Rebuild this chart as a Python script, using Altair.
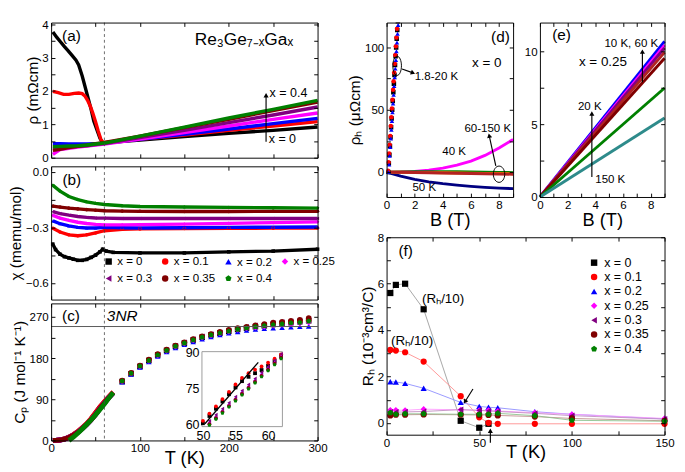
import altair as alt
import pandas as pd

FONT = "Liberation Sans"

# ---------------- series definitions ----------------
COMP = ["x = 0", "x = 0.1", "x = 0.2", "x = 0.25", "x = 0.3", "x = 0.35", "x = 0.4"]
COLORS = ["#000000", "#FF0000", "#0000FF", "#FF00FF", "#800080", "#800000", "#008000"]
LIGHT = ["#9a9a9a", "#FF8a8a", "#8a8aFF", "#FF9aFF", "#C08AC0", "#C08a8a", "#8ac08a"]
PENTAGON = "M0,-1L0.951,-0.309L0.588,0.809L-0.588,0.809L-0.951,-0.309Z"
SHAPES = ["square", "circle", "triangle-up", "diamond", "triangle-left", "circle", PENTAGON]

# ---------------- (a) resistivity ----------------
A_T0 = [2, 6, 10, 15, 19, 24, 28, 31, 35, 38, 41, 45, 48, 52, 55, 58, 60, 100, 150, 200, 250, 300]
A_R0 = [3.77, 3.62, 3.49, 3.33, 3.21, 3.05, 2.92, 2.78, 2.45, 2.15, 1.85, 1.45, 1.1, 0.8, 0.58, 0.45, 0.45, 0.53, 0.63, 0.73, 0.82, 0.92]
A_T1 = [2, 8, 14, 20, 26, 31, 35, 38, 41, 44, 47, 50, 53, 56, 58, 60, 100, 150, 200, 250, 300]
A_R1 = [1.99, 1.95, 1.9, 1.9, 1.93, 1.94, 1.92, 1.85, 1.72, 1.55, 1.33, 1.08, 0.8, 0.55, 0.47, 0.45, 0.55, 0.68, 0.82, 0.95, 1.08]
A_T = [2, 10, 20, 30, 40, 50, 60, 100, 150, 200, 250, 300]
A_R2 = [0.42, 0.42, 0.41, 0.41, 0.41, 0.42, 0.43, 0.55, 0.7, 0.86, 1.02, 1.18]
A_R3 = [0.1, 0.24, 0.28, 0.32, 0.35, 0.38, 0.41, 0.56, 0.75, 0.95, 1.15, 1.34]
A_R4 = [0.28, 0.3, 0.32, 0.34, 0.36, 0.39, 0.42, 0.6, 0.82, 1.05, 1.28, 1.52]
A_R5 = [0.22, 0.25, 0.3, 0.34, 0.38, 0.42, 0.46, 0.65, 0.9, 1.15, 1.41, 1.67]
A_R6 = [0.33, 0.34, 0.35, 0.36, 0.38, 0.41, 0.44, 0.65, 0.92, 1.19, 1.45, 1.72]

# ---------------- (b) susceptibility ----------------
B_T0 = [1.8, 5, 10, 15, 20, 25, 30, 35, 40, 45, 50, 55, 58, 62, 70, 100, 150, 200, 250, 300]
B_X0 = [-0.39, -0.42, -0.445, -0.458, -0.465, -0.472, -0.478, -0.478, -0.473, -0.462, -0.45, -0.432,
        -0.418, -0.428, -0.435, -0.438, -0.438, -0.432, -0.428, -0.418]
B_T = [2, 10, 20, 30, 40, 50, 60, 80, 100, 150, 200, 250, 300]
B_X1 = [-0.305, -0.325, -0.34, -0.345, -0.34, -0.33, -0.318, -0.31, -0.308, -0.306, -0.305, -0.304, -0.303]
B_X2 = [-0.265, -0.28, -0.292, -0.3, -0.303, -0.303, -0.3, -0.302, -0.303, -0.302, -0.3, -0.299, -0.298]
B_X3 = [-0.235, -0.25, -0.262, -0.272, -0.279, -0.284, -0.286, -0.286, -0.285, -0.282, -0.278, -0.274, -0.27]
B_X4 = [-0.215, -0.225, -0.234, -0.241, -0.246, -0.249, -0.25, -0.252, -0.252, -0.252, -0.252, -0.252, -0.252]
B_X5 = [-0.185, -0.19, -0.196, -0.2, -0.204, -0.207, -0.21, -0.212, -0.213, -0.214, -0.214, -0.213, -0.213]
B_X6 = [-0.073, -0.104, -0.133, -0.15, -0.162, -0.17, -0.176, -0.183, -0.187, -0.19, -0.192, -0.194, -0.196]

# ---------------- (c) specific heat ----------------
C_T = [80, 90, 100, 110, 120, 130, 140, 150, 160, 170, 180, 190, 200, 210, 220, 230, 240, 250, 260, 270, 280, 290]
C_0 = [129, 146, 162, 175, 187, 197, 206, 213, 220, 226, 231, 235, 239, 243, 246, 249, 251, 254, 256, 258, 260, 262]
C_1 = [130, 147, 163, 176, 188, 198, 207, 214, 221, 227, 232, 236, 240, 244, 247, 250, 252, 255, 257, 259, 261, 263]
C_2 = [128, 145, 160, 172, 184, 194, 203, 210, 216, 222, 227, 231, 235, 238, 241, 243, 245, 246, 247, 248, 249, 250]
C_3 = [129, 146, 162, 174, 186, 196, 205, 212, 219, 225, 230, 234, 238, 242, 245, 247, 249, 251, 253, 254, 256, 258]
C_4 = [130, 148, 164, 176, 188, 198, 207, 215, 222, 228, 233, 237, 241, 245, 249, 252, 254, 257, 259, 261, 263, 266]
C_5 = [131, 148, 164, 177, 189, 199, 208, 215, 222, 228, 233, 238, 242, 246, 249, 252, 255, 258, 260, 262, 264, 268]
C_6 = [130, 147, 163, 175, 187, 197, 206, 213, 220, 226, 231, 235, 239, 243, 246, 249, 251, 253, 255, 257, 258, 261]
C_TL = [2, 5, 10, 15, 20, 25, 30, 35, 40, 45, 50, 55, 60, 65, 70]
C_L0 = [0.1, 0.3, 1.1, 3.3, 7, 12.5, 19, 27, 36, 47, 60, 73, 84, 95, 105]
C_L1 = [0.1, 0.3, 1.2, 3.5, 7.5, 13, 20, 28, 37, 48, 61, 74, 85, 96, 106]
C_LM = [0.1, 0.3, 1.0, 3.0, 6.5, 11.5, 18, 26, 35, 45, 57, 70, 82, 94, 104]
C_TLG = [20, 25, 30, 35, 40, 45, 50, 55, 60, 65, 70]
C_L6 = [0, 7, 16, 25, 35, 45, 56, 68, 80, 93, 105]
NR3 = 249.4
T_DASH = 60

# inset of (c)
IN_T = [50, 51, 52, 53, 54, 55, 56, 57, 58, 59, 60, 61, 62]
IN_0 = [60.8, 63.8, 66.8, 69.8, 72.8, 75.6, 78.2, 80, 81.5, 82.8, 84.5, 86.5, 88.8]
IN_1 = [61.8, 64.8, 67.8, 70.8, 73.8, 76.8, 79.5, 81.5, 83, 84.3, 85.8, 87.5, 89.3]
IN_T2 = [51, 52, 53, 54, 55, 56, 57, 58, 59, 60, 61, 62]
IN_2 = [61.2, 63.7, 66.2, 68.7, 71.2, 73.7, 76.2, 78.7, 81.2, 83.7, 86.2, 88.5]
IN_3 = [60.8, 63.3, 65.8, 68.3, 70.8, 73.3, 75.8, 78.3, 80.8, 83.3, 85.8, 88.2]
IN_4 = [61.8, 64.3, 66.8, 69.3, 71.8, 74.3, 76.8, 79.3, 81.8, 84.3, 86.8, 89.5]
IN_5 = [60.4, 62.9, 65.4, 67.9, 70.4, 72.9, 75.4, 77.9, 80.4, 82.9, 85.4, 87.9]
IN_6 = [60, 62.5, 65, 67.5, 70, 72.5, 75, 77.5, 80, 82.5, 85, 87.5]
FIT_T = [50.3, 58.5]
FIT_C = [60.6, 86.0]

# ---------------- (d) Hall resistivity x = 0 ----------------
D_B0 = [0.12, 0.16, 0.2, 0.24, 0.28, 0.32, 0.36, 0.4, 0.44, 0.48, 0.52, 0.56, 0.6, 0.64, 0.68, 0.72, 0.76, 0.8]
D_R0 = [0, 7, 14, 21, 28, 36, 43, 50, 57, 64, 71, 78, 86, 93, 100, 107, 114, 121]
D_B1 = [0.1, 0.14, 0.18, 0.22, 0.26, 0.3, 0.34, 0.38, 0.42, 0.46, 0.5, 0.54, 0.58, 0.62, 0.66, 0.7, 0.74, 0.78]
D_R1 = [1, 8, 15, 22, 29, 37, 44, 51, 58, 66, 73, 80, 87, 94, 101, 108, 115, 122]
D_B2 = [0.14, 0.18, 0.22, 0.26, 0.3, 0.34, 0.38, 0.42, 0.46, 0.5, 0.54, 0.58, 0.62, 0.66, 0.7, 0.74, 0.78, 0.82]
D_R2 = [0, 6, 13, 20, 27, 34, 41, 48, 55, 62, 69, 76, 83, 90, 97, 104, 111, 118]
D_B = [0, 1, 2, 3, 4, 5, 6, 7, 8, 9]
D_40K = [0, 0.1, 0.6, 1.6, 3.2, 5.6, 8.8, 13.4, 19.4, 26.2]
D_50K = [0, -3.2, -5.8, -7.8, -9.3, -10.5, -11.5, -12.3, -12.9, -13.3]
D_60K = [0, 0.15, 0.25, 0.3, 0.3, 0.25, 0.15, 0.0, -0.2, -0.4]
D_100K = [0, -0.1, -0.25, -0.4, -0.55, -0.7, -0.85, -1.0, -1.15, -1.3]
D_150K = [0, -0.15, -0.35, -0.55, -0.75, -0.95, -1.15, -1.35, -1.55, -1.75]
D_NAMES = ["40 K", "50 K", "60 K", "100 K", "150 K"]
D_COLS = ["#FF00FF", "#000080", "#008000", "#FF8000", "#B22222"]

# ---------------- (e) Hall resistivity x = 0.25 ----------------
E_B = [0, 9]
E_NAMES = ["10 K", "20 K", "30 K", "40 K", "60 K", "100 K", "150 K"]
E_END = [10.7, 10.45, 10.25, 9.95, 9.55, 7.5, 5.43]
E_COLS = ["#0000FF", "#FF00FF", "#800080", "#B22222", "#800000", "#008000", "#2E8B8B"]

# ---------------- (f) Hall coefficient ----------------
F_T0 = [2, 5, 10, 20, 40, 50, 55]
F_0 = [5.6, 5.95, 6.0, 4.9, 0.1, -0.2, -0.03]
F_T = [2, 5, 10, 20, 40, 50, 55, 60, 80, 100, 150]
F_1 = [3.15, 3.12, 3.05, 2.65, 1.16, 0.25, 0.01, -0.03, -0.03, -0.03, -0.03]
F_2 = [1.78, 1.77, 1.71, 1.5, 0.89, 0.72, 0.68, 0.66, 0.49, 0.38, 0.18]
F_3 = [0.56, 0.56, 0.55, 0.6, 0.57, 0.55, 0.55, 0.52, 0.45, 0.38, 0.2]
F_4 = [0.47, 0.47, 0.48, 0.5, 0.58, 0.55, 0.52, 0.5, 0.42, 0.32, 0.17]
F_5 = [0.33, 0.36, 0.36, 0.37, 0.36, 0.35, 0.35, 0.33, 0.28, 0.2, 0.1]
F_6 = [0.45, 0.38, 0.4, 0.4, 0.38, 0.38, 0.38, 0.42, 0.32, 0.12, 0.08]

# ---------------- layout ----------------
W_L = 278
H_A, H_B, H_C = 141, 139, 143
W_R, H_DE, H_F = 290, 182, 206
D_X1 = 132
E_X0 = 160
IX0, IX1 = 0.566 * W_L, 0.868 * W_L
IY_TOP, IY_BOT = 0.352 * H_C, 0.899 * H_C

E1 = "M0,-1A0.45,1,0,1,1,0,1A0.45,1,0,1,1,0,-1Z"
E2 = "M0,-1A0.7,1,0,1,1,0,1A0.7,1,0,1,1,0,-1Z"


def long_df(xs_list, ys_list, keys, colors=None, shapes=None):
    rows = []
    for i, (xs, ys, k) in enumerate(zip(xs_list, ys_list, keys)):
        for xv, yv in zip(xs, ys):
            r = {"x": xv, "y": yv, "s": k}
            if colors:
                r["col"] = colors[i]
            if shapes:
                r["shp"] = shapes[i]
            rows.append(r)
    return pd.DataFrame(rows)


def sc(dom, rng):
    return alt.Scale(domain=dom, range=rng, nice=False, zero=False)


def label_axis(orient, offset, values, title, title_size=16, title_pad=2, fmt=None, label_size=12):
    kw = dict(orient=orient, offset=offset, values=values, ticks=False, tickSize=0, domain=False,
              grid=False, labelFontSize=label_size, labelColor="black", labelPadding=3,
              labelFlush=False, labelOverlap=False, titleFontSize=title_size,
              titleFontWeight="normal", titleColor="black", titlePadding=title_pad, title=title)
    if fmt:
        kw["format"] = fmt
    return alt.Axis(**kw)


def tick_layers(xdom, ydom, xrng, yrng, xt, yt, W, H, size=4):
    xl, xr = xrng
    yb, ytop = yrng
    d = pd.DataFrame({"tx": [(xdom[0] + xdom[1]) / 2], "ty": [(ydom[0] + ydom[1]) / 2]})
    xs, ys = sc(xdom, xrng), sc(ydom, yrng)
    c = dict(labels=False, domain=True, domainColor="black", domainWidth=1, grid=False, ticks=True,
             tickSize=size, tickColor="black", tickWidth=1, title=None, zindex=1)
    l1 = alt.Chart(d).mark_point(opacity=0).encode(
        x=alt.X("tx:Q", scale=xs, axis=alt.Axis(orient="top", offset=-yb, values=xt, **c)),
        y=alt.Y("ty:Q", scale=ys, axis=alt.Axis(orient="right", offset=xl - W, values=yt, **c)))
    l2 = alt.Chart(d).mark_point(opacity=0).encode(
        x=alt.X("tx:Q", scale=xs, axis=alt.Axis(orient="bottom", offset=ytop - H, values=xt, **c)),
        y=alt.Y("ty:Q", scale=ys, axis=alt.Axis(orient="left", offset=-xr, values=yt, **c)))
    return [l1, l2]


def text(XS, YS, rows, size=13, align="center", style="normal"):
    d = pd.DataFrame(rows, columns=["x", "y", "t"])
    return alt.Chart(d).mark_text(fontSize=size, align=align, baseline="middle", fontStyle=style,
                                  color="black").encode(
        x=alt.X("x:Q", scale=XS, axis=None), y=alt.Y("y:Q", scale=YS, axis=None), text="t:N")


def arrow(XS, YS, x1, y1, x2, y2, angle, size=28, clip=True):
    d = pd.DataFrame({"x": [x1], "y": [y1], "x2": [x2], "y2": [y2]})
    shaft = alt.Chart(d).mark_rule(color="black", strokeWidth=1.2, clip=clip).encode(
        x=alt.X("x:Q", scale=XS, axis=None), y=alt.Y("y:Q", scale=YS, axis=None), x2="x2:Q", y2="y2:Q")
    head = alt.Chart(d).mark_point(shape="triangle-up", filled=True, size=size, color="black",
                                   angle=angle, opacity=1, clip=clip).encode(
        x=alt.X("x2:Q", scale=XS, axis=None), y=alt.Y("y2:Q", scale=YS, axis=None))
    return [shaft, head]


def vline(XS):
    return alt.Chart(pd.DataFrame({"x": [T_DASH]})).mark_rule(
        strokeDash=[3, 3], color="#444444", strokeWidth=0.8).encode(x=alt.X("x:Q", scale=XS, axis=None))


CS = alt.Scale(domain=COMP, range=COLORS)
SS = alt.Scale(domain=COMP, range=SHAPES)
TT = [0, 50, 100, 150, 200, 250, 300]

# ================= (a) =================
XA, YA = sc([0, 300], [0, W_L]), sc([0, 4.05], [H_A, 0])
dfa = long_df([A_T0, A_T1, A_T, A_T, A_T, A_T, A_T], [A_R0, A_R1, A_R2, A_R3, A_R4, A_R5, A_R6], COMP, COLORS)
a_layers = [
    alt.Chart(dfa).mark_line(strokeWidth=3.5).encode(
        x=alt.X("x:Q", scale=XA, axis=None),
        y=alt.Y("y:Q", scale=YA, axis=label_axis("left", 0, [0, 1, 2, 3, 4], "ρ (mΩcm)")),
        color=alt.Color("col:N", scale=None), detail="s:N"),
    vline(XA),
    *arrow(XA, YA, 242, 0.48, 242, 1.87, 0),
    text(XA, YA, [[22.8, 3.65, "(a)"]], 16),
    text(XA, YA, [[217, 3.53, "Re₃Ge₇₋ₓGaₓ"]], 18),
    text(XA, YA, [[246, 1.94, "x = 0.4"], [245, 0.57, "x = 0"]], 13, align="left"),
]
a_ticks = tick_layers([0, 300], [0, 4.05], [0, W_L], [H_A, 0], TT, [0, 0.5, 1, 1.5, 2, 2.5, 3, 3.5, 4], W_L, H_A)
panel_a = alt.layer(*a_layers, *a_ticks).resolve_axis(x="independent", y="independent").properties(
    width=W_L, height=H_A)

# ================= (b) =================
XB, YB = sc([0, 300], [0, W_L]), sc([-0.69, 0.03], [H_B, 0])
dfb = long_df([B_T0] + [B_T] * 6, [B_X0, B_X1, B_X2, B_X3, B_X4, B_X5, B_X6], COMP, COLORS)
LEG_B = alt.Legend(orient="none", legendX=54, legendY=93, direction="horizontal", columns=4, title=None,
                   labelFontSize=12, labelColor="black", symbolSize=45, symbolOpacity=1, columnPadding=6,
                   rowPadding=4, labelOffset=3)
b_layers = [
    alt.Chart(dfb).mark_line(strokeWidth=3.5).encode(
        x=alt.X("x:Q", scale=XB, axis=None),
        y=alt.Y("y:Q", scale=YB, axis=label_axis("left", 0, [-0.6, -0.3, 0], "χ (memu/mol)", fmt=".1f")),
        color=alt.Color("col:N", scale=None), detail="s:N"),
    alt.Chart(dfb).mark_point(filled=True, size=14, opacity=1).encode(
        x=alt.X("x:Q", scale=XB, axis=None), y=alt.Y("y:Q", scale=YB, axis=None),
        color=alt.Color("s:N", scale=CS, legend=LEG_B), shape=alt.Shape("s:N", scale=SS, legend=LEG_B)),
    vline(XB),
    text(XB, YB, [[23.3, -0.046, "(b)"]], 16),
]
b_ticks = tick_layers([0, 300], [-0.69, 0.03], [0, W_L], [H_B, 0], TT, [-0.6, -0.45, -0.3, -0.15, 0], W_L, H_B)
panel_b = alt.layer(*b_layers, *b_ticks).resolve_axis(x="independent", y="independent").properties(
    width=W_L, height=H_B)

# ================= (c) =================
XC, YC = sc([0, 300], [0, W_L]), sc([0, 300], [H_C, 0])
dfc_hi = long_df([C_T] * 7, [C_0, C_1, C_2, C_3, C_4, C_5, C_6], COMP, COLORS, SHAPES)
dfc_lo = long_df([C_TL, C_TL, C_TL, C_TL, C_TL, C_TL, C_TLG], [C_L0, C_L1, C_LM, C_LM, C_LM, C_LM, C_L6],
                 COMP, COLORS)
c_layers = [
    alt.Chart(dfc_lo).mark_line(strokeWidth=5).encode(
        x=alt.X("x:Q", scale=XC, axis=label_axis("bottom", 0, [0, 100, 200, 300], "T (K)", 19, -5)),
        y=alt.Y("y:Q", scale=YC, axis=label_axis("left", 0, [0, 90, 180, 270], "Cₚ (J mol⁻¹ K⁻¹)")),
        color=alt.Color("col:N", scale=None), detail="s:N"),
    alt.Chart(dfc_hi).mark_point(filled=True, size=34, opacity=1).encode(
        x=alt.X("x:Q", scale=XC, axis=None), y=alt.Y("y:Q", scale=YC, axis=None),
        color=alt.Color("col:N", scale=None), shape=alt.Shape("shp:N", scale=None)),
    alt.Chart(pd.DataFrame({"y": [NR3]})).mark_rule(color="#555555", strokeWidth=1).encode(
        y=alt.Y("y:Q", scale=YC, axis=None)),
    vline(XC),
    text(XC, YC, [[22.4, 273, "(c)"]], 16),
    text(XC, YC, [[80, 273, "3NR"]], 16, style="italic"),
]
c_ticks = tick_layers([0, 300], [0, 300], [0, W_L], [H_C, 0], TT, [0, 45, 90, 135, 180, 225, 270], W_L, H_C)

INX, INY = sc([49.85, 62.2], [IX0, IX1]), sc([59.4, 90.4], [IY_BOT, IY_TOP])
dfin = long_df([IN_T, IN_T, IN_T2, IN_T2, IN_T2, IN_T2, IN_T2], [IN_0, IN_1, IN_2, IN_3, IN_4, IN_5, IN_6],
               COMP, COLORS, SHAPES)
inset_layers = [
    alt.Chart(pd.DataFrame({"x0": [49.85], "x1": [62.2], "y0": [59.4], "y1": [90.4]})).mark_rect(
        fill="white", stroke="#9a9a9a", strokeWidth=1).encode(
        x=alt.X("x0:Q", scale=INX, axis=label_axis("bottom", IY_BOT - H_C, [50, 55, 60], None, label_size=13)),
        y=alt.Y("y0:Q", scale=INY, axis=label_axis("left", -IX0, [60, 75, 90], None, label_size=13)),
        x2="x1:Q", y2="y1:Q"),
    alt.Chart(dfin).mark_point(filled=True, size=16, opacity=1).encode(
        x=alt.X("x:Q", scale=INX, axis=None), y=alt.Y("y:Q", scale=INY, axis=None),
        color=alt.Color("col:N", scale=None), shape=alt.Shape("shp:N", scale=None)),
    alt.Chart(pd.DataFrame({"x": FIT_T, "y": FIT_C})).mark_line(color="black", strokeWidth=1.3).encode(
        x=alt.X("x:Q", scale=INX, axis=None), y=alt.Y("y:Q", scale=INY, axis=None)),
]
panel_c = alt.layer(*c_layers, *c_ticks, *inset_layers).resolve_scale(
    x="independent", y="independent").properties(width=W_L, height=H_C)

# ================= (d) + (e) =================
XD, YD = sc([0, 9], [0, D_X1]), sc([-20, 120], [H_DE, 0])
dfd_lines = long_df([D_B] * 5, [D_40K, D_50K, D_60K, D_100K, D_150K], D_NAMES, D_COLS)
dfd_pts = long_df([D_B0, D_B1, D_B2], [D_R0, D_R1, D_R2], ["1.8 K", "10 K", "20 K"],
                  ["#000000", "#FF0000", "#0000FF"], ["square", "circle", "triangle-up"])
d_layers = [
    alt.Chart(dfd_lines).mark_line(strokeWidth=3).encode(
        x=alt.X("x:Q", scale=XD, axis=label_axis("bottom", 0, [0, 2, 4, 6, 8], "B (T)", 19, 1)),
        y=alt.Y("y:Q", scale=YD, axis=label_axis("left", 0, [0, 50, 100], "ρₕ (μΩcm)")),
        color=alt.Color("col:N", scale=None), detail="s:N"),
    alt.Chart(dfd_pts).mark_point(filled=True, size=22, opacity=1, clip=True).encode(
        x=alt.X("x:Q", scale=XD, axis=None), y=alt.Y("y:Q", scale=YD, axis=None),
        color=alt.Color("col:N", scale=None), shape=alt.Shape("shp:N", scale=None)),
    alt.Chart(pd.DataFrame({"x": [0.75], "y": [85.3]})).mark_point(
        shape=E1, size=400, filled=False, color="black", strokeWidth=1, opacity=1).encode(
        x=alt.X("x:Q", scale=XD, axis=None), y=alt.Y("y:Q", scale=YD, axis=None)),
    alt.Chart(pd.DataFrame({"x": [8.0], "y": [-1.7]})).mark_point(
        shape=E2, size=289, filled=False, color="black", strokeWidth=1, opacity=1).encode(
        x=alt.X("x:Q", scale=XD, axis=None), y=alt.Y("y:Q", scale=YD, axis=None)),
    *arrow(XD, YD, 1.1, 82.8, 1.88, 79.6, 111),
    *arrow(XD, YD, 7.77, 5, 7.3, 29.3, 348),
    text(XD, YD, [[8.1, 108, "(d)"]], 16),
    text(XD, YD, [[7.13, 87.8, "x = 0"]], 14),
    text(XD, YD, [[2.0, 76.6, "1.8-20 K"]], 12, align="left"),
    text(XD, YD, [[7.2, 35.6, "60-150 K"], [4.8, 16.4, "40 K"], [2.68, -12.4, "50 K"]], 12),
]
d_ticks = tick_layers([0, 9], [-20, 120], [0, D_X1], [H_DE, 0], list(range(10)), [0, 25, 50, 75, 100], W_R, H_DE)

XE, YE = sc([0, 9], [E_X0, W_R]), sc([0, 12], [H_DE, 0])
dfe = long_df([E_B] * 7, [[0, v] for v in E_END], E_NAMES, E_COLS)
e_layers = [
    alt.Chart(dfe).mark_line(strokeWidth=3).encode(
        x=alt.X("x:Q", scale=XE, axis=label_axis("bottom", 0, [0, 2, 4, 6, 8], "B (T)", 19, 1)),
        y=alt.Y("y:Q", scale=YE, axis=label_axis("left", -E_X0, [0, 5, 10], None)),
        color=alt.Color("col:N", scale=None), detail="s:N"),
    *arrow(XE, YE, 7.4, 7.9, 7.4, 10.0, 0),
    *arrow(XE, YE, 3.75, 1.37, 3.75, 5.75, 0),
    text(XE, YE, [[1.56, 11.15, "(e)"]], 16),
    text(XE, YE, [[4.55, 9.28, "x = 0.25"]], 14),
    text(XE, YE, [[6.6, 10.55, "10 K, 60 K"], [3.6, 6.28, "20 K"], [5.08, 1.26, "150 K"]], 12),
]
e_ticks = tick_layers([0, 9], [0, 12], [E_X0, W_R], [H_DE, 0], list(range(10)), [0, 2.5, 5, 7.5, 10], W_R, H_DE)

panel_de = alt.layer(*d_layers, *d_ticks, *e_layers, *e_ticks).resolve_scale(
    x="independent", y="independent").properties(width=W_R, height=H_DE)

# ================= (f) =================
XF, YF = sc([0, 150], [0, W_R]), sc([-0.5, 8], [H_F, 0])
dff = long_df([F_T0] + [F_T] * 6, [F_0, F_1, F_2, F_3, F_4, F_5, F_6], COMP, LIGHT)
LEG_F = alt.Legend(orient="none", legendX=210, legendY=20, direction="vertical", title=None,
                   labelFontSize=13, labelColor="black", symbolSize=45, symbolOpacity=1, rowPadding=1,
                   labelOffset=4)
f_layers = [
    alt.Chart(dff).mark_line(strokeWidth=0.9).encode(
        x=alt.X("x:Q", scale=XF, axis=label_axis("bottom", 0, [0, 50, 100, 150], "T (K)", 19, -5)),
        y=alt.Y("y:Q", scale=YF, axis=label_axis("left", 0, [0, 2, 4, 6, 8], "Rₕ (10⁻³cm³/C)")),
        color=alt.Color("col:N", scale=None), detail="s:N"),
    alt.Chart(dff).mark_point(filled=True, size=42, opacity=1).encode(
        x=alt.X("x:Q", scale=XF, axis=None), y=alt.Y("y:Q", scale=YF, axis=None),
        color=alt.Color("s:N", scale=CS, legend=LEG_F), shape=alt.Shape("s:N", scale=SS, legend=LEG_F)),
    *arrow(XF, YF, 46.6, 1.47, 42.3, 0.92, 212),
    *arrow(XF, YF, 56, -0.85, 56, -0.33, 0, clip=False),
    text(XF, YF, [[10.3, 7.38, "(f)"]], 16),
    text(XF, YF, [[30.5, 5.32, "(Rₕ/10)"], [13.8, 3.53, "(Rₕ/10)"]], 14),
]
f_ticks = tick_layers([0, 150], [-0.5, 8], [0, W_R], [H_F, 0], [0, 25, 50, 75, 100, 125, 150],
                      [0, 1, 2, 3, 4, 5, 6, 7, 8], W_R, H_F)
panel_f = alt.layer(*f_layers, *f_ticks).resolve_axis(x="independent", y="independent").properties(
    width=W_R, height=H_F)

# ================= assemble =================
left = alt.vconcat(panel_a, panel_b, panel_c, spacing=2).resolve_scale(color="independent", shape="independent")
right = alt.vconcat(panel_de, panel_f, spacing=2).resolve_scale(color="independent", shape="independent")
chart = alt.hconcat(left, right, spacing=11).resolve_scale(
    color="independent", shape="independent").properties(
    padding={"left": 0, "top": 0, "right": 2, "bottom": 2}
).configure(font=FONT).configure_view(strokeOpacity=0)

chart.save("out.html", embed_options={"renderer": "svg", "actions": False})
